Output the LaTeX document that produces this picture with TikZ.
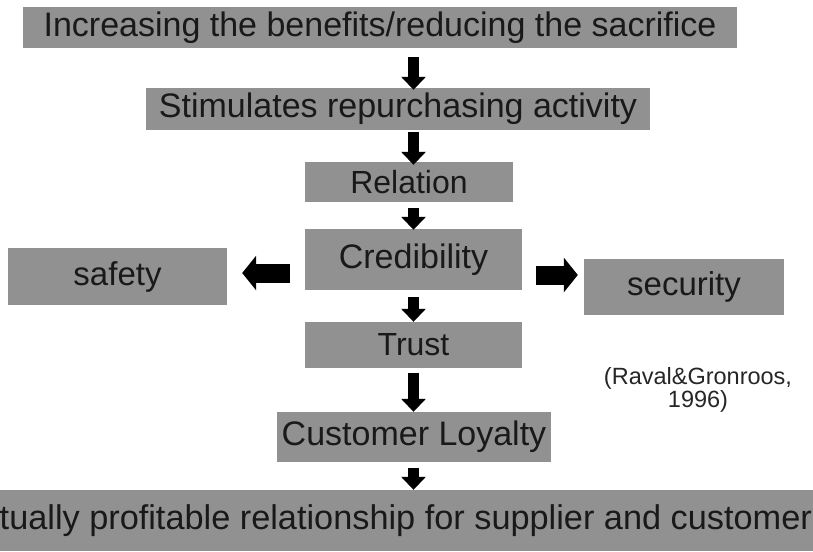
\documentclass[tikz,border=0pt]{standalone}
\usepackage{fontspec}
\setmainfont{Liberation Sans}
\usetikzlibrary{arrows.meta}
\definecolor{boxgray}{gray}{0.57}
\begin{document}
\begin{tikzpicture}[x=1pt,y=-1pt,
  gbox/.style={draw=none,fill=boxgray,inner sep=0pt,text=black!90,
    font=\fontsize{34}{36}\selectfont},
  varrow/.style={line width=11pt,draw=black,-{Triangle[width=24pt,length=13pt]}},
  harrow/.style={line width=19pt,draw=black,-{Triangle[width=34pt,length=14pt]}},
  citetext/.style={font=\fontsize{23.5}{23}\selectfont,align=center,text=black!85,inner sep=0pt}
]
\clip (0,0) rectangle (813,551);
\useasboundingbox (0,0) rectangle (813,551);
\coordinate (ax) at (413.5,0);
\coordinate (hl) at (0,273);
\coordinate (hr) at (0,275);

\node[gbox,minimum width=714pt,minimum height=41pt] (top) at (380,27.5)
  {Increasing the benefits/reducing the sacrifice};
\node[gbox,minimum width=504pt,minimum height=42pt] (stim) at (398,109)
  {Stimulates repurchasing activity};
\node[gbox,minimum width=208pt,minimum height=40pt,font=\fontsize{32}{34}\selectfont] (rel) at (409,182)
  {Relation};
\node[gbox,minimum width=217pt,minimum height=61pt] (cred) at (413.5,259.5)
  {Credibility};
\node[gbox,minimum width=219pt,minimum height=57pt,font=\fontsize{33}{35}\selectfont] (safety) at (117.5,276.5)
  {safety};
\node[gbox,minimum width=200pt,minimum height=56pt,font=\fontsize{33}{35}\selectfont] (security) at (684,287)
  {security};
\node[gbox,minimum width=217pt,minimum height=46pt,font=\fontsize{32}{34}\selectfont] (trust) at (413.5,345)
  {Trust};
\node[gbox,minimum width=274pt,minimum height=50pt] (cl) at (414,437)
  {Customer Loyalty};
\node[gbox,minimum width=862pt,minimum height=61pt,font=\fontsize{34.3}{36}\selectfont] (mut) at (382,520.5)
  {Mutually profitable relationship for supplier and customer};

\node[citetext] (cite) at (698,390) {(Raval\&Gronroos,\\1996)};

\draw[varrow,shorten <=9pt,shorten >=-2pt] (top.south -| ax) -- (stim.north -| ax);
\draw[varrow,shorten <=2pt,shorten >=-3pt] (stim.south -| ax) -- (rel.north -| ax);
\draw[varrow,shorten <=6pt,shorten >=-1pt] (rel.south -| ax) -- (cred.north -| ax);
\draw[varrow,shorten <=7pt] (cred.south -| ax) -- (trust.north -| ax);
\draw[varrow,shorten <=5pt] (trust.south -| ax) -- (cl.north -| ax);
\draw[varrow,shorten <=6pt] (cl.south -| ax) -- (mut.north -| ax);
\draw[harrow,shorten <=15pt,shorten >=15pt] (cred.west |- hl) -- (safety.east |- hl);
\draw[harrow,shorten <=14pt,shorten >=6pt] (cred.east |- hr) -- (security.west |- hr);
\end{tikzpicture}
\end{document}
